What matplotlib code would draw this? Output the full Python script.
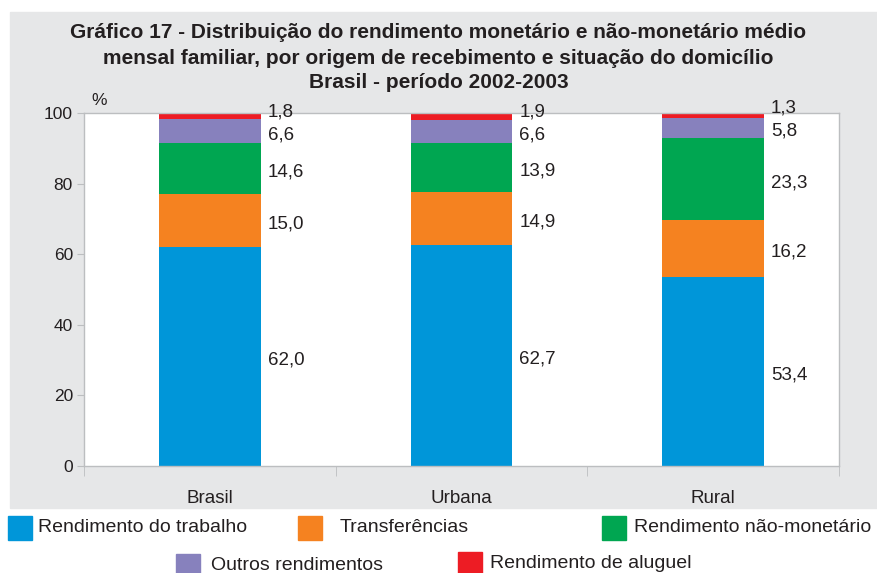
import numpy as np
import matplotlib.pyplot as plt
from matplotlib.patches import Rectangle

plt.rcParams['font.family'] = ['Liberation Sans', 'DejaVu Sans']

categorias = ['Brasil', 'Urbana', 'Rural']
series = ['Rendimento do trabalho', 'Transferências', 'Rendimento não-monetário',
          'Outros rendimentos', 'Rendimento de aluguel']
trabalho = [62.0, 62.7, 53.4]
transferencias = [15.0, 14.9, 16.2]
nao_monetario = [14.6, 13.9, 23.3]
outros = [6.6, 6.6, 5.8]
aluguel = [1.8, 1.9, 1.3]

cores = ['#0096d9', '#f58220', '#00a651', '#8781bd', '#ed1c24']
txt = '#231f20'
cinza = '#bcbec0'

W, H = 877, 573
fig = plt.figure(figsize=(W / 100, H / 100), dpi=100)

# fundo cinza do painel
fig.patches.append(Rectangle((10 / W, 1 - 508 / H), 1 - 10 / W, (508 - 12) / H,
                             transform=fig.transFigure, color='#e6e7e8', zorder=-5))

titulo = ['Gráfico 17 - Distribuição do rendimento monetário e não-monetário médio',
          'mensal familiar, por origem de recebimento e situação do domicílio',
          'Brasil - período 2002-2003']
for k, linha in enumerate(titulo):
    fig.text(0.5, 1 - (33 + 25 * k) / H, linha, ha='center', va='center',
             fontsize=15, fontweight='bold', color=txt)

ax = fig.add_axes([84 / W, 1 - 466 / H, (839 - 84) / W, (466 - 113) / H])
ax.set_facecolor('white')

x = np.arange(len(categorias))
largura = 0.405
dados = [trabalho, transferencias, nao_monetario, outros, aluguel]
base = np.zeros(len(categorias))
for vals, cor, nome in zip(dados, cores, series):
    ax.bar(x, vals, largura, bottom=base, color=cor, label=nome, zorder=2)
    base = base + np.array(vals)

# rótulos à direita de cada segmento
for i in range(len(categorias)):
    base_i = 0
    ultimo = -100
    for vals in dados:
        v = vals[i]
        yc = base_i + v / 2 - 1
        if yc - ultimo < 6.5:
            yc = ultimo + 6.5
        ultimo = yc
        ax.annotate(f'{v:.1f}'.replace('.', ','), xy=(x[i] + largura / 2, yc),
                    xytext=(5, 0), textcoords='offset points',
                    ha='left', va='center', fontsize=13.5, color=txt,
                    annotation_clip=False)
        base_i += v

ax.set_xlim(-0.5, 2.5)
ax.set_ylim(0, 100)
ax.set_yticks([0, 20, 40, 60, 80, 100])
ax.tick_params(axis='y', labelsize=12.5, colors=cinza, labelcolor=txt, length=5, pad=3)
ax.set_xticks(x)
ax.set_xticklabels(categorias, fontsize=13.5, color=txt)
ax.tick_params(axis='x', length=0, pad=17)
ax.set_xticks([-0.5, 0.5, 1.5, 2.5], minor=True)
ax.tick_params(axis='x', which='minor', length=7, colors=cinza)
for s in ax.spines.values():
    s.set_color(cinza)
    s.set_linewidth(1)
ax.text(-0.47, 101.5, '%', fontsize=12.5, color=txt, ha='left', va='bottom')

# legenda: (x do quadrado, x do texto, y)
leg_pos = [(8, 38, 528), (298, 340, 528), (602, 634, 528), (176, 211, 566), (458, 490, 564)]
for (lx, tx, ly), cor, nome in zip(leg_pos, cores, series):
    fig.patches.append(Rectangle((lx / W, 1 - (ly + 12) / H), 24 / W, 24 / H,
                                 transform=fig.transFigure, color=cor))
    fig.text(tx / W, 1 - ly / H, nome, ha='left', va='center',
             fontsize=14, color=txt)

fig.savefig('out.png', dpi=100)
